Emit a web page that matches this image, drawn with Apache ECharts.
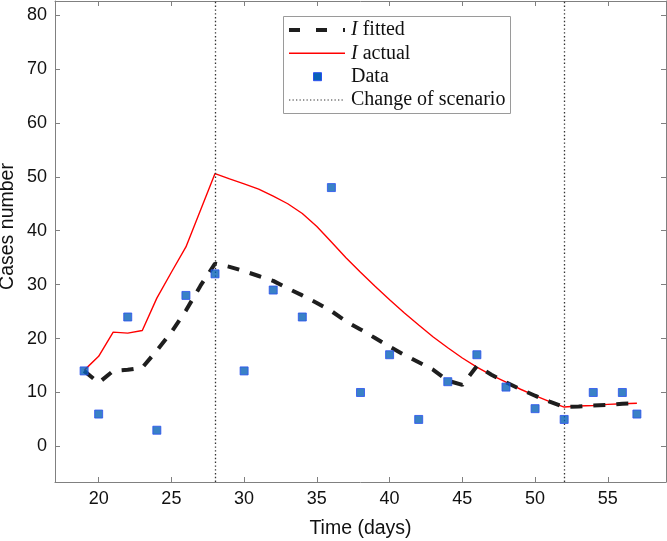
<!DOCTYPE html>
<html>
<head>
<meta charset="utf-8">
<script src="https://cdn.jsdelivr.net/npm/echarts@6/dist/echarts.min.js"></script>
<style>
html,body{margin:0;padding:0;background:#fff;}
#chart{width:667px;height:541px;}
</style>
</head>
<body>
<div id="chart"></div>
<script>
// ---- data ----
const days = [19,20,21,22,23,24,25,26,27,28,29,30,31,32,33,34,35,36,37,38,39,40,41,42,43,44,45,46,47,48,49,50,51,52,53,54,55,56,57];
const fittedI = [14.0,11.8,14.0,14.2,14.6,17.8,21.2,25.2,29.8,33.9,33.3,32.5,31.6,30.7,29.3,28.0,26.6,25.1,23.2,21.7,20.1,18.5,17.0,15.6,14.2,12.2,11.4,14.9,13.3,11.9,10.6,9.4,8.3,7.3,7.4,7.6,7.7,7.9,8.0];
const actualI = [14.1,16.7,21.2,21.0,21.5,27.5,32.3,37.0,43.8,50.6,49.6,48.7,47.7,46.4,45.0,43.2,40.8,37.9,35.0,32.3,29.7,27.2,24.8,22.5,20.3,18.3,16.4,14.7,13.2,11.9,10.6,9.4,8.3,7.3,7.5,7.6,7.8,7.9,8.0];
const dataDays = [19,20,22,24,26,28,30,32,34,36,38,40,42,44,46,48,50,52,54,56,57];
const dataCases = [14,6,24,3,28,32,14,29,24,48,10,17,5,12,17,11,7,5,10,10,6];
const scenarioChanges = [28, 52];
const xTicks = [20,25,30,35,40,45,50,55];
const yTicks = [0,10,20,30,40,50,60,70,80];
const legendLabels = ['{i|I} fitted', '{i|I} actual', 'Data', 'Change of scenario'];
const xTitle = 'Time (days)';
const yTitle = 'Cases number';

const X_MIN = 17, X_MAX = 59, Y_MIN = -6.6, Y_MAX = 82.6;
const axisGray = '#808080';
const tickFont = {fontFamily: 'Liberation Sans', fontSize: 18, color: '#111'};

function zip(a, b) { return a.map((v, i) => [v, b[i]]); }

const chart = echarts.init(document.getElementById('chart'), null, {renderer: 'canvas'});

function axisCommon(showLabels, ticks) {
  return {
    type: 'value',
    splitLine: {show: false},
    axisLine: {show: true, onZero: false, lineStyle: {color: axisGray, width: 1}},
    axisTick: {show: true, inside: true, length: 5, customValues: ticks, lineStyle: {color: axisGray, width: 1}},
    axisLabel: Object.assign({show: showLabels, customValues: ticks}, tickFont)
  };
}

const legendRows = [30, 53.3, 76.7, 100];
const LX0 = 289, LX1 = 345, LT = 351;

const option = {
  animation: false,
  backgroundColor: '#fff',
  grid: {left: 55, right: 1, top: 1, bottom: 59, containLabel: false, outerBoundsMode: 'none'},
  xAxis: [
    Object.assign(axisCommon(true, xTicks), {
      position: 'bottom', min: X_MIN, max: X_MAX,
      name: xTitle, nameLocation: 'middle', nameGap: 37, nameMoveOverlap: false,
      nameTextStyle: {fontFamily: 'Liberation Sans', fontSize: 19.5, color: '#111'},
      axisLabel: Object.assign({show: true, customValues: xTicks, margin: 8}, tickFont)
    }),
    Object.assign(axisCommon(false, xTicks), {position: 'top', min: X_MIN, max: X_MAX})
  ],
  yAxis: [
    Object.assign(axisCommon(true, yTicks), {
      position: 'left', min: Y_MIN, max: Y_MAX,
      name: yTitle, nameLocation: 'middle', nameGap: 37, nameMoveOverlap: false,
      nameTextStyle: {fontFamily: 'Liberation Sans', fontSize: 19.5, color: '#111', padding: [0, 0, 0, 30]},
      axisLabel: Object.assign({show: true, customValues: yTicks, margin: 8}, tickFont)
    }),
    Object.assign(axisCommon(false, yTicks), {position: 'right', min: Y_MIN, max: Y_MAX})
  ],
  series: [
    {
      name: 'I actual', type: 'line', data: zip(days, actualI),
      showSymbol: false, symbol: 'none',
      lineStyle: {color: '#ff0000', width: 1.4},
      z: 3
    },
    {
      name: 'I fitted', type: 'line', data: zip(days, fittedI),
      showSymbol: false, symbol: 'none',
      lineStyle: {color: '#1e1e1e', width: 4, type: [12, 11]},
      z: 4,
      markLine: {
        silent: true, symbol: 'none', label: {show: false},
        lineStyle: {color: '#333', width: 1.3, type: [1.4, 2.4]},
        data: scenarioChanges.map(v => ({xAxis: v}))
      }
    },
    {
      name: 'Data', type: 'scatter', data: zip(dataDays, dataCases),
      symbol: 'rect', symbolSize: 8,
      itemStyle: {color: '#0862b8', borderColor: '#2a50f0', borderWidth: 1},
      z: 5
    }
  ],
  graphic: [
    {type: 'rect', shape: {x: 283.5, y: 16.5, width: 227, height: 97},
     style: {fill: '#fff', stroke: '#9a9a9a', lineWidth: 1}, z: 10},
    {type: 'line', shape: {x1: LX0, y1: legendRows[0], x2: LX1, y2: legendRows[0]},
     style: {stroke: '#1e1e1e', lineWidth: 4, lineDash: [11, 16]}, z: 11},
    {type: 'line', shape: {x1: LX0, y1: legendRows[1], x2: LX1, y2: legendRows[1]},
     style: {stroke: '#ff0000', lineWidth: 1.4}, z: 11},
    {type: 'rect', shape: {x: 313.5, y: legendRows[2] - 4, width: 8, height: 8},
     style: {fill: '#0862b8', stroke: '#2a50f0', lineWidth: 1}, z: 11},
    {type: 'line', shape: {x1: LX0, y1: legendRows[3], x2: LX1, y2: legendRows[3]},
     style: {stroke: '#333', lineWidth: 1.2, lineDash: [1.3, 2.2]}, z: 11}
  ].concat(legendLabels.map((t, i) => ({
    type: 'text', x: LT, y: legendRows[i], z: 11,
    style: {
      text: t, fill: '#111', fontFamily: 'Liberation Serif', fontSize: 20,
      verticalAlign: 'middle', align: 'left',
      rich: {i: {fontStyle: 'italic', fontFamily: 'Liberation Serif', fontSize: 20, fill: '#111'}}
    }
  })))
};
chart.setOption(option);
</script>
</body>
</html>
